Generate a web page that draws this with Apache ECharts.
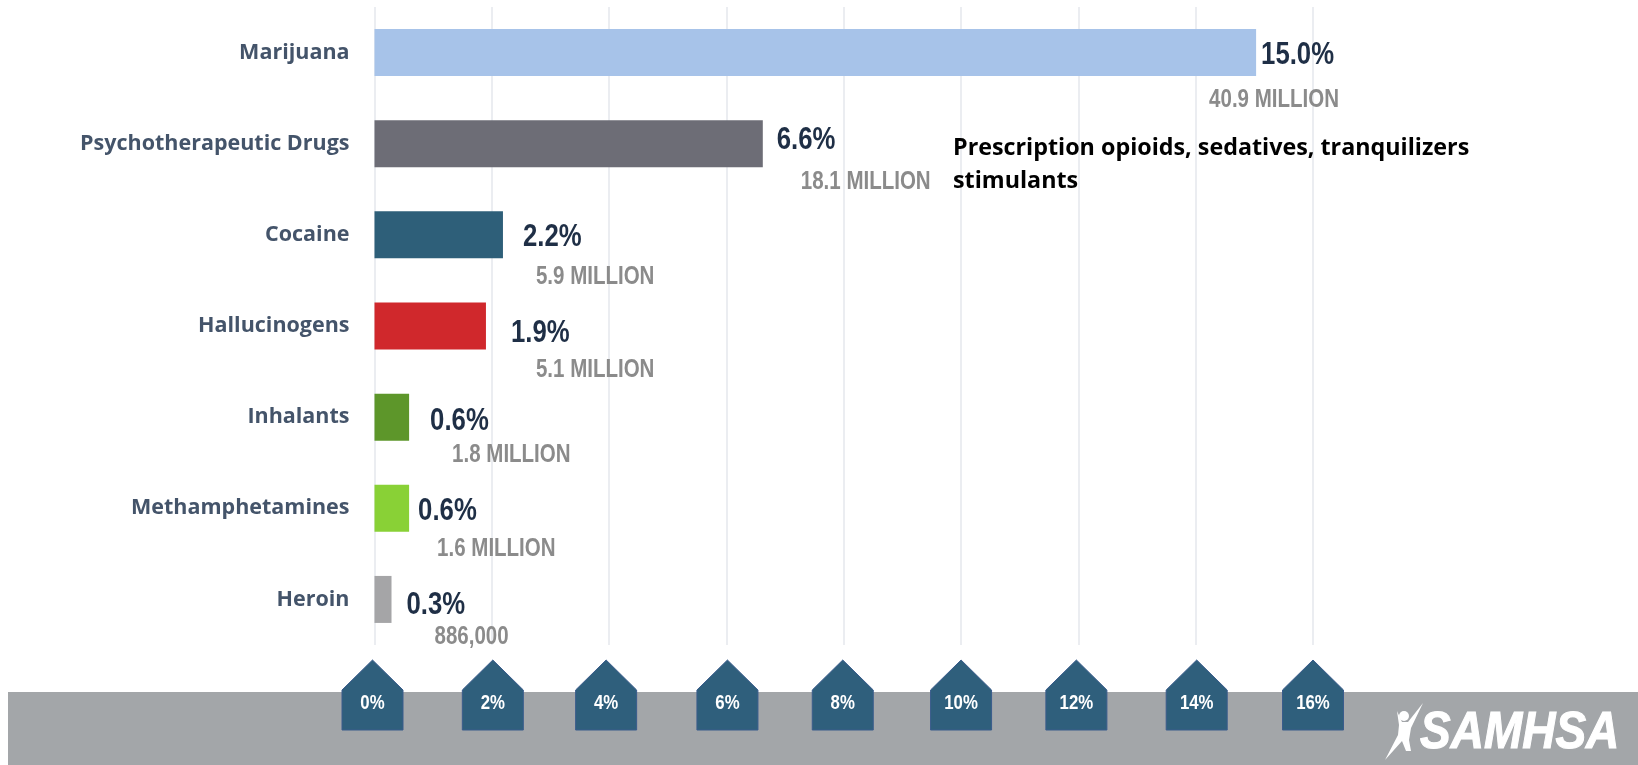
<!DOCTYPE html>
<html>
<head>
<meta charset="utf-8">
<style>html,body{margin:0;padding:0;background:#fff}#c{width:1638px;height:765px}</style>
<script src="https://cdn.jsdelivr.net/npm/echarts@6/dist/echarts.min.js"></script>
</head>
<body>
<div id="c"></div>
<script>
const categories = ['Marijuana','Psychotherapeutic Drugs','Cocaine','Hallucinogens','Inhalants','Methamphetamines','Heroin'];
const percentValues = [15.0,6.6,2.2,1.9,0.6,0.6,0.3];
const barLengths = [15.03,6.62,2.19,1.9,0.59,0.59,0.29];
const peopleLabels = ['40.9 MILLION','18.1 MILLION','5.9 MILLION','5.1 MILLION','1.8 MILLION','1.6 MILLION','886,000'];
const barColors = ['#a7c3e9','#6d6d76','#2e5f79','#d0282c','#5d962a','#89d136','#a5a5a7'];
const tickValues = [0,2,4,6,8,10,12,14,16];
const tickLabels = ['0%','2%','4%','6%','8%','10%','12%','14%','16%'];
const noteLines = ['Prescription opioids, sedatives, tranquilizers','stimulants'];

// label placement relative to each bar end (style, not data)
const percentOffsets = [[5,3],[14,-3],[20,3],[25,7],[21,4],[9,3],[15,6]];
const peopleOffsets = [[-47,48],[38,38],[33,42],[50,44],[43,38],[28,41],[43,38]];
const tickNudge = [-2,1,-3,1,-1,0,-2,1,0];

const sans = '"Liberation Sans",sans-serif';
const chart = echarts.init(document.getElementById('c'), null, {renderer:'canvas'});

chart.setOption({
  animation:false,
  backgroundColor:'#fff',
  grid:{left:374.5,width:938.5,top:7,height:638,containLabel:false},
  xAxis:{type:'value',min:0,max:16,interval:2,
    axisLine:{show:false},axisTick:{show:false},axisLabel:{show:false},
    splitLine:{show:true,lineStyle:{color:'#e4e7ec',width:1.5}}},
  yAxis:{type:'category',inverse:true,data:categories,
    axisLine:{show:false},axisTick:{show:false},
    axisLabel:{margin:25,color:'#44546a',fontFamily:'"Open Sans"',fontWeight:'bold',fontSize:21.5,padding:[5,0,0,0]}},
  graphic:[
    {type:'rect',z:0,shape:{x:8,y:692,width:1630,height:73},style:{fill:'#a3a6a9'},silent:true},
    {type:'text',z:10,x:953,y:148,style:{text:noteLines[0],font:'bold 23.3px "Open Sans"',fill:'#000',textVerticalAlign:'middle'}},
    {type:'text',z:10,x:953,y:181,style:{text:noteLines[1],font:'bold 23.3px "Open Sans"',fill:'#000',textVerticalAlign:'middle'}},
    {type:'text',z:10,x:1420,y:734,scaleX:1.0,scaleY:1.12,style:{text:'SAMHSA',font:'italic bold 46px "Liberation Sans"',fill:'#fff',stroke:'#fff',lineWidth:1,textVerticalAlign:'middle'}},
    {type:'circle',z:10,shape:{cx:1404,cy:716,r:5},style:{fill:'#fff'}},
    {type:'polygon',z:10,shape:{points:[[1397,711],[1402,722],[1408,722],[1423,703],[1411,728],[1409,740],[1411,751],[1406,751],[1402,741],[1385,760],[1398,735],[1399,725]]},style:{fill:'#fff'}}
  ],
  series:[
    {type:'bar',barWidth:47,z:2,
      data:barLengths.map((v,i)=>({value:v,itemStyle:{color:barColors[i]}}))},
    {type:'custom',z:4,silent:true,clip:false,
      data:barLengths.map((v,i)=>[v,i]),
      encode:{x:0,y:1},
      renderItem(params,api){
        const i=api.value(1);
        const p=api.coord([api.value(0),i]);
        return {type:'group',children:[
          {type:'text',x:p[0]+percentOffsets[i][0],y:p[1]+percentOffsets[i][1],scaleX:0.83,
            style:{text:percentValues[i].toFixed(1)+'%',fill:'#1f2f46',font:'bold 31px '+sans,textVerticalAlign:'middle'}},
          {type:'text',x:p[0]+peopleOffsets[i][0],y:p[1]+peopleOffsets[i][1],scaleX:0.82,
            style:{text:peopleLabels[i],fill:'#8b8b8b',font:'bold 25px '+sans,textVerticalAlign:'middle'}}
        ]};
      }},
    {type:'custom',z:5,silent:true,clip:false,
      data:tickValues.map((v,i)=>[v,i]),
      encode:{x:0},
      renderItem(params,api){
        const cx=api.coord([api.value(0),0])[0]+tickNudge[api.value(1)];
        const w=30.5;
        return {type:'group',children:[
          {type:'polygon',shape:{points:[[cx,660],[cx+w,690],[cx+w,730],[cx-w,730],[cx-w,690]]},
            style:{fill:'#2f5f7c',stroke:'#3a5c8c',lineWidth:1}},
          {type:'text',x:cx,y:703,scaleX:0.8,style:{text:tickLabels[api.value(1)],fill:'#fff',
            font:'bold 21px '+sans,textAlign:'center',textVerticalAlign:'middle'}}
        ]};
      }}
  ]
});
</script>
</body>
</html>
